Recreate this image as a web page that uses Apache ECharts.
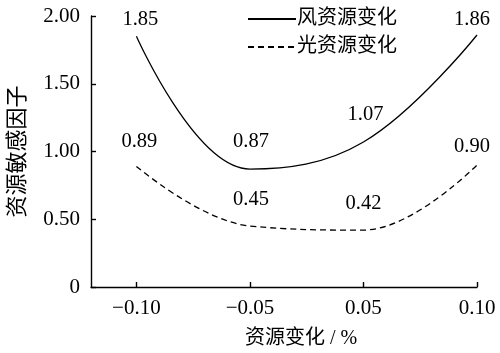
<!DOCTYPE html>
<html>
<head>
<meta charset="utf-8">
<script src="https://cdn.jsdelivr.net/npm/echarts@6/dist/echarts.min.js"></script>
<style>
  html, body { margin: 0; padding: 0; background: #fff; }
  #chart { width: 500px; height: 353px; }
</style>
</head>
<body>
<div id="chart"></div>
<script>
// data
const xLabels = ["\u22120.10", "\u22120.05", "0.05", "0.10"];
const windName = "风资源变化";
const solarName = "光资源变化";
const windValues = [1.85, 0.87, 1.07, 1.86];
const solarValues = [0.89, 0.45, 0.42, 0.90];

// label nudges (layout only)
const windLabelOffsets = [[4, -1], [1, -12], [2, -12], [-5, 0]];
const solarLabelOffsets = [[3, -10], [1, -11], [0, -11], [-5, -3]];

const fontFamily = '"Liberation Serif", "Noto Sans CJK SC", serif';

function buildData(values, offsets) {
  return values.map((v, i) => ({
    value: [i, v],
    label: { offset: offsets[i] }
  }));
}

const chart = echarts.init(document.getElementById("chart"));
chart.setOption({
  animation: false,
  textStyle: { fontFamily: fontFamily, color: "#000" },
  grid: { left: 91, right: 23, top: 16, bottom: 66, outerBoundsMode: "none", containLabel: false },
  legend: {
    orient: "vertical",
    left: 242,
    top: 4,
    itemWidth: 48,
    itemHeight: 14,
    itemGap: 8,
    itemStyle: { opacity: 0 },
    textStyle: { fontFamily: fontFamily, fontSize: 20, color: "#000", padding: [0, 0, 0, -4] },
    data: [windName, solarName]
  },
  xAxis: {
    type: "value",
    min: -0.4,
    max: 3,
    name: "资源变化 / %",
    nameLocation: "middle",
    nameGap: 42,
    nameTextStyle: { fontSize: 20, color: "#000", fontFamily: fontFamily, padding: [0, 0, 0, 34] },
    splitLine: { show: false },
    axisLine: { onZero: false, lineStyle: { color: "#000", width: 1.4 } },
    axisTick: {
      inside: true,
      length: 5,
      customValues: [0, 1, 2, 3],
      lineStyle: { color: "#000", width: 1.4 }
    },
    axisLabel: {
      customValues: [0, 1, 2, 3],
      fontSize: 21,
      color: "#000",
      margin: 11,
      formatter: v => xLabels[Math.round(v)]
    }
  },
  yAxis: {
    type: "value",
    min: 0,
    max: 2,
    interval: 0.5,
    name: "资源敏感因子",
    nameLocation: "middle",
    nameGap: 62,
    nameTextStyle: { fontSize: 22, color: "#000", fontFamily: fontFamily },
    splitLine: { show: false },
    axisLine: { show: true, onZero: false, lineStyle: { color: "#000", width: 1.4 } },
    axisTick: { show: true, inside: true, length: 5, lineStyle: { color: "#000", width: 1.4 } },
    axisLabel: {
      fontSize: 21,
      color: "#000",
      margin: 11,
      formatter: v => (v === 0 ? "0" : v.toFixed(2))
    }
  },
  series: [
    {
      name: windName,
      type: "line",
      smooth: 0.4,
      symbol: "circle",
      symbolSize: 0,
      showSymbol: true,
      data: buildData(windValues, windLabelOffsets),
      lineStyle: { color: "#000", width: 1.3 },
      itemStyle: { color: "#000" },
      label: {
        show: true,
        position: "top",
        fontSize: 20.5,
        color: "#000",
        formatter: p => p.value[1].toFixed(2)
      }
    },
    {
      name: solarName,
      type: "line",
      smooth: 0.4,
      symbol: "circle",
      symbolSize: 0,
      showSymbol: true,
      data: buildData(solarValues, solarLabelOffsets),
      lineStyle: { color: "#000", width: 1.3, type: [6, 4] },
      itemStyle: { color: "#000" },
      label: {
        show: true,
        position: "top",
        fontSize: 20.5,
        color: "#000",
        formatter: p => p.value[1].toFixed(2)
      }
    }
  ]
});
</script>
</body>
</html>
